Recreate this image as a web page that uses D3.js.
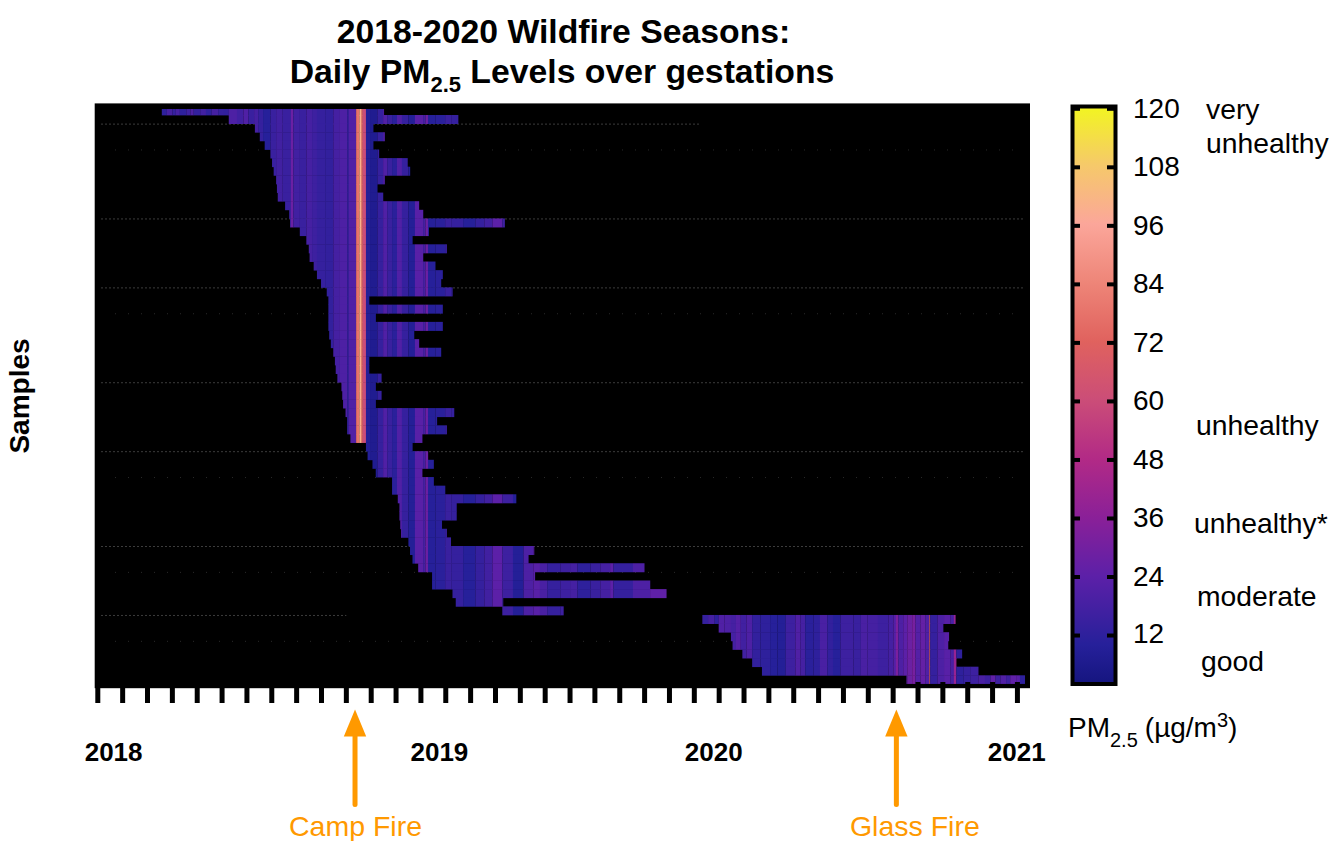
<!DOCTYPE html>
<html><head><meta charset="utf-8">
<style>html,body{margin:0;padding:0;background:#fff}svg{display:block}text{font-family:"Liberation Sans",Arial,sans-serif}</style>
<script src="https://cdn.jsdelivr.net/npm/d3@7"></script></head><body>
<svg id="c" width="1332" height="841"></svg>
<script>
// Exposure window of every sample, in days since 2018-01-01
const rowStart=[79,161,193,199,205,212,214,216,219,220,221,230,235,236,248,256,259,260,265,269,274,281,283,283,283,283,284,286,289,291,292,294,299,300,301,304,306,306,310,329,331,337,341,361,361,368,370,370,371,372,381,383,386,393,410,410,435,439,496,741,761,776,778,790,802,814,991];
const rowEnd=[351,442,338,352,338,345,380,383,352,343,350,394,399,499,406,386,428,399,414,423,421,435,333,423,341,423,388,394,421,333,333,348,341,348,341,437,416,428,398,386,405,412,398,412,426,513,440,440,422,428,433,535,528,670,536,677,697,497,571,1051,1036,1043,1042,1059,1052,1079,1136];
// Daily PM2.5 read as runs: first day of each run and its level
const runDay=[79,85,92,96,101,109,114,118,126,133,140,148,155,161,171,179,185,192,197,203,212,219,227,237,240,248,256,263,269,279,289,297,306,308,317,321,323,325,329,334,343,350,355,361,367,373,381,389,399,402,405,414,426,434,448,463,474,484,496,509,522,534,542,551,567,579,588,604,616,628,632,656,677,697,741,748,756,761,768,776,782,788,795,802,812,824,833,843,855,861,867,877,885,894,901,910,926,935,943,956,969,975,978,981,987,992,998,1002,1008,1014,1019,1020,1029,1037,1045,1049,1052,1061,1069,1079,1087,1094,1100,1106,1113,1118,1126,1130,1137];
const runPM=[12,18,14,18,12,16,20,13,17,12,18,14,13,20,17,21,15,18,14,10,15,17,15,28,17,15,18,16,14,13,18,20,14,21,78,100,80,60,9,7,14,21,15,11,21,14,9,23,18,28,10,11,15,14,10,14,17,24,16,9,20,23,19,14,16,18,12,15,18,24,14,20,25,15,14,18,12,21,20,18,22,17,20,13,12,10,9,16,21,18,11,12,19,13,10,16,15,19,18,16,18,22,32,20,24,28,31,22,26,21,70,14,20,23,19,40,12,14,16,19,16,25,16,21,16,25,23,12];
const monthTicks=d3.range(0,38).map(m=>m*30.44);
const yearLabels=["2018","2019","2020","2021"];
const yearLabelDays=[20,419,755,1126];
const colorTicks=[12,24,36,48,60,72,84,96,108,120];
const colorStops=[2,10,24,36,48,60,72,84,96,108,120];
const colorHex=["#15157f","#26209a","#5c20a8","#8a2098","#b22a86","#cb4d78","#e0625e","#ee8578","#fba69a","#f6c96a","#f2f520"];
const majorGrid=[[1,738],[12,1136],[20,1136],[31,1136],[39,1136],[50,1136],[58,305]];
const minorGrid=[4,23,42,53,61];
const fires=[{name:"Camp Fire",day:316,offset:0},{name:"Glass Fire",day:979,offset:18}];
const airLabels=[["very",1206,119],["unhealthy",1206,153],["unhealthy",1196,435],["unhealthy*",1194,533],["moderate",1197,606],["good",1201,671]];

const svg=d3.select("#c");
const x=d3.scaleLinear().domain([0,1126]).range([97.3,1016.7]);
const rows=d3.range(rowStart.length);
const y=d3.scaleBand().domain(rows).range([106.38,106.38+67*8.62]);
const color=d3.scaleLinear().domain(colorStops).range(colorHex);
const defs=svg.append("defs");
defs.append("clipPath").attr("id","heat").append("rect").attr("x",90).attr("y",109).attr("width",945).attr("height",575);

// Title
const t1=svg.append("text").attr("x",563.5).attr("y",42.5).attr("text-anchor","middle").attr("font-weight","bold").attr("font-size",33.75);
t1.text("2018-2020 Wildfire Seasons:");
const t2=svg.append("text").attr("x",562).attr("y",83).attr("text-anchor","middle").attr("font-weight","bold").attr("font-size",33.75);
t2.append("tspan").text("Daily PM");
t2.append("tspan").attr("font-size",22).attr("dy",9).text("2.5");
t2.append("tspan").attr("dy",-9).text(" Levels over gestations");

// Plot ground
svg.append("rect").attr("x",94.7).attr("y",103.4).attr("width",935.3).attr("height",584.8).attr("fill","#000");

// Faint row separators
const gridG=svg.append("g");
majorGrid.forEach(([k,end])=>gridG.append("line").attr("x1",101).attr("x2",x(end)).attr("y1",y(k+1)+0.5).attr("y2",y(k+1)+0.5).attr("stroke","#3c3c3c").attr("stroke-dasharray","2 2"));
minorGrid.forEach(k=>gridG.append("line").attr("x1",115).attr("x2",x(1136)).attr("y1",y(k+1)+0.5).attr("y2",y(k+1)+0.5).attr("stroke","#2a2a2a").attr("stroke-dasharray","1 12"));

// Heat cells
const cells=[];
rows.forEach(r=>{
  for(let i=0;i<runPM.length;i++){
    const a=Math.max(runDay[i],rowStart[r]),b=Math.min(runDay[i+1],rowEnd[r]);
    if(b>a)cells.push({r,a,b,v:runPM[i]});
  }
});
svg.append("g").attr("clip-path","url(#heat)").selectAll("rect").data(cells).join("rect")
  .attr("x",d=>x(d.a)).attr("width",d=>x(d.b)-x(d.a)+0.15)
  .attr("y",d=>y(d.r)).attr("height",d=>y.bandwidth()+(d.r<66?0.4:0))
  .attr("fill",d=>color(d.v));

// Month ticks
const xAxis=svg.append("g").attr("transform","translate(0,682)").call(d3.axisBottom(x).tickValues(monthTicks).tickSize(21).tickFormat(""));
xAxis.select(".domain").remove();
xAxis.selectAll("line").attr("stroke","#000").attr("stroke-width",5);

svg.append("g").selectAll("text").data(yearLabels).join("text")
  .attr("x",(d,i)=>x(yearLabelDays[i])).attr("y",761).attr("text-anchor","middle")
  .attr("font-weight","bold").attr("font-size",26).text(d=>d);

svg.append("text").attr("transform","translate(29,396) rotate(-90)").attr("text-anchor","middle")
  .attr("font-weight","bold").attr("font-size",28).text("Samples");

// Fire arrows
fires.forEach(f=>{
  const fx=x(f.day)-0.3;
  svg.append("line").attr("x1",fx).attr("x2",fx).attr("y1",804.5).attr("y2",732).attr("stroke","#ff9900").attr("stroke-width",5).attr("stroke-linecap","round");
  svg.append("path").attr("d",d3.line()([[fx,709.5],[fx+11.2,736.5],[fx-11.2,736.5]])+"Z").attr("fill","#ff9900");
  svg.append("text").attr("x",fx+f.offset+0.5).attr("y",836).attr("text-anchor","middle").attr("font-size",28.5).attr("fill","#ff9900").text(f.name);
});

// Colour bar
const barScale=d3.scaleLinear().domain([2,120]).range([683.8,108.3]);
const grad=defs.append("linearGradient").attr("id","bar").attr("x1",0).attr("x2",0).attr("y1",1).attr("y2",0);
colorStops.forEach((v,i)=>grad.append("stop").attr("offset",(v-2)/118).attr("stop-color",colorHex[i]));
svg.append("rect").attr("x",1072.5).attr("y",106.5).attr("width",43).attr("height",577.5).attr("fill","url(#bar)").attr("stroke","#000").attr("stroke-width",4);
const barL=svg.append("g").attr("transform","translate(1072,0)").call(d3.axisRight(barScale).tickValues(colorTicks).tickSize(8).tickFormat(""));
const barR=svg.append("g").attr("transform","translate(1116,0)").call(d3.axisLeft(barScale).tickValues(colorTicks).tickSize(9).tickFormat(""));
[barL,barR].forEach(g=>{g.select(".domain").remove();g.selectAll("line").attr("stroke","#000").attr("stroke-width",4);});
svg.append("g").selectAll("text").data(colorTicks).join("text")
  .attr("x",1133).attr("y",d=>barScale(d)+(d===12?8:9.5)).attr("font-size",28).text(d=>d);
svg.append("g").selectAll("text").data(airLabels).join("text")
  .attr("x",d=>d[1]).attr("y",d=>d[2]).attr("font-size",28.3).text(d=>d[0]);

// Colour bar unit
const pm=svg.append("text").attr("x",1068).attr("y",737).attr("font-size",28);
pm.append("tspan").text("PM");
pm.append("tspan").attr("font-size",20).attr("dy",10).text("2.5");
pm.append("tspan").attr("dy",-10).attr("dx",7).text("(µg/m");
pm.append("tspan").attr("font-size",20).attr("dy",-10).text("3");
pm.append("tspan").attr("dy",10).attr("font-size",28).text(")");
</script></body></html>
